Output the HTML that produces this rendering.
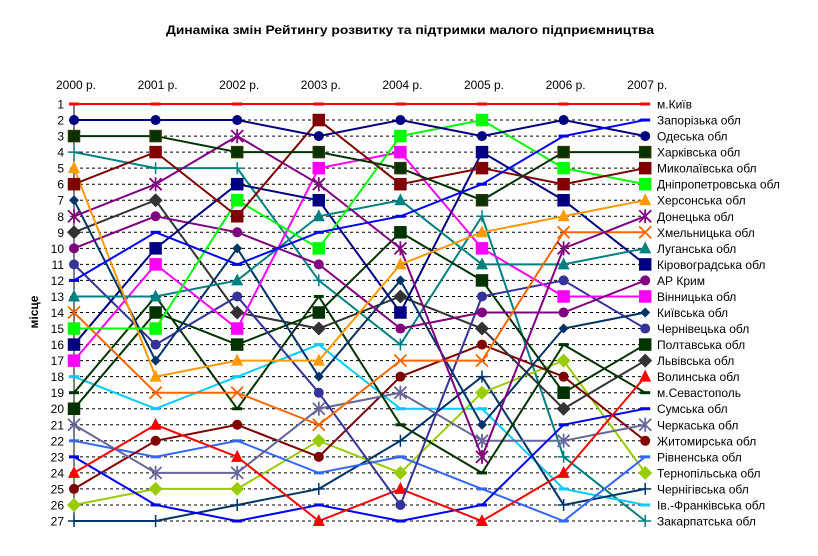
<!DOCTYPE html>
<html><head><meta charset="utf-8"><style>
body{margin:0;background:#fff;}
svg text{font-family:"Liberation Sans",Arial,sans-serif;}
</style></head><body>
<svg id="chart" width="818" height="551" viewBox="0 0 818 551" xmlns="http://www.w3.org/2000/svg">
<text x="410" y="34" text-anchor="middle" font-size="12" font-weight="bold" textLength="488" lengthAdjust="spacingAndGlyphs">Динаміка змін Рейтингу розвитку та підтримки  малого підприємництва</text>
<text transform="translate(38,312) rotate(-90)" text-anchor="middle" font-size="12" font-weight="bold">місце</text>
<g id="grid"></g><g id="axes"></g><g id="series"></g><g id="legend"></g>
</svg>
<script>
const years = ["2000 р.","2001 р.","2002 р.","2003 р.","2004 р.","2005 р.","2006 р.","2007 р."];
const rankTicks = [1,2,3,4,5,6,7,8,9,10,11,12,13,14,15,16,17,18,19,20,21,22,23,24,25,26,27];
const names = ["м.Київ","Запорізька обл","Одеська обл","Харківська обл","Миколаївська обл","Дніпропетровська обл","Херсонська обл","Донецька обл","Хмельницька обл","Луганська обл","Кіровоградська обл","АР Крим","Вінницька обл","Київська обл","Чернівецька обл","Полтавська обл","Львівська обл","Волинська обл","м.Севастополь","Сумська обл","Черкаська обл","Житомирська обл","Рівненська обл","Тернопільська обл","Чернігівська обл","Ів.-Франківська обл","Закарпатська обл"];
const rKyiv = [1,1,1,1,1,1,1,1];
const rZap = [12,9,11,9,8,6,3,2];
const rOde = [2,2,2,3,2,3,2,3];
const rKha = [3,3,4,4,5,7,4,4];
const rMyk = [6,4,8,2,6,5,6,5];
const rDni = [15,15,7,10,3,2,5,6];
const rKhe = [5,18,17,17,11,9,8,7];
const rDon = [8,6,3,6,10,23,10,8];
const rKhm = [14,19,19,21,17,17,9,9];
const rLug = [13,13,12,8,7,11,11,10];
const rKir = [16,10,6,7,14,4,7,11];
const rCrm = [10,8,9,11,15,14,14,12];
const rVin = [17,11,15,5,4,10,13,13];
const rKyo = [7,17,10,18,12,21,15,14];
const rChv = [11,16,13,19,26,13,12,15];
const rPol = [20,14,16,14,9,12,19,16];
const rLvi = [9,7,14,15,13,15,20,17];
const rVol = [24,21,23,27,25,27,24,18];
const rSev = [19,13,20,13,21,24,16,19];
const rSum = [23,26,27,26,27,26,21,20];
const rChk = [21,24,24,20,19,22,22,21];
const rZhy = [25,22,21,23,18,16,18,22];
const rRiv = [22,23,22,24,23,25,27,23];
const rTer = [26,25,25,22,24,19,17,24];
const rChg = [27,27,26,25,22,18,26,25];
const rIvf = [18,20,18,16,20,20,25,26];
const rZak = [4,5,5,12,16,8,23,27];
const ranks = [rKyiv,rZap,rOde,rKha,rMyk,rDni,rKhe,rDon,rKhm,rLug,rKir,rCrm,rVin,rKyo,rChv,rPol,rLvi,rVol,rSev,rSum,rChk,rZhy,rRiv,rTer,rChg,rIvf,rZak];
const colors = ["#FF0000","#0000FF","#000080","#003300","#800000","#00FF00","#FF9900","#800080","#FF6600","#008080","#000080","#800080","#FF00FF","#003366","#333399","#003300","#333333","#FF0000","#003300","#0000FF","#666699","#800000","#3366FF","#99CC00","#003366","#00CCFF","#008080"];
const markers = ["dash","dash","circle","square","square","square","triangle","star","x","triangle","square","circle","square","diamondS","circle","square","diamond","triangle","dash","dash","star","circle","dash","diamond","plus","dash","plus"];

const NS="http://www.w3.org/2000/svg";
function xAt(i){return 74+i*81.6;}
function yAt(r){return 104+(r-1)*(417/26);}
function mk(tag,attrs,parent){const e=document.createElementNS(NS,tag);for(const k in attrs)e.setAttribute(k,attrs[k]);parent.appendChild(e);return e;}
const grid=document.getElementById('grid'),axes=document.getElementById('axes'),ser=document.getElementById('series'),leg=document.getElementById('legend');
rankTicks.forEach(r=>{
  const gl=mk('line',{x1:74,x2:xAt(7),y1:yAt(r),y2:yAt(r),stroke:'#000','stroke-width':1,'stroke-dasharray':'3,3'},grid);
  
  
  const t=mk('text',{x:64,y:yAt(r)+4.5,'text-anchor':'end','font-size':12},axes);
  t.textContent=r;
  
  
  mk('line',{x1:70,x2:74,y1:yAt(r),y2:yAt(r),stroke:'#000'},axes);
});
const ax=mk('line',{x1:74,x2:74,y1:yAt(1),y2:yAt(27),stroke:'#000','stroke-width':1},axes);


years.forEach((y,i)=>{
  const t=mk('text',{x:xAt(i)+2,y:89,'text-anchor':'middle','font-size':12},axes);
  t.textContent=y;
  
  
});
function marker(type,x,y,c,g){
  if(type==='circle')mk('circle',{cx:x,cy:y,r:5,fill:c},g);
  else if(type==='square')mk('rect',{x:x-5.5,y:y-5.5,width:11,height:11,fill:c,stroke:c==='#003300'&&g.dataset.idx==='3'?'#333300':c,'stroke-width':1.5},g);
  else if(type==='triangle')mk('polygon',{points:`${x},${y-7} ${x+6},${y+5} ${x-6},${y+5}`,fill:c},g);
  else if(type==='diamond')mk('polygon',{points:`${x},${y-7} ${x+7},${y} ${x},${y+7} ${x-7},${y}`,fill:c},g);
  else if(type==='diamondS')mk('polygon',{points:`${x},${y-5} ${x+5},${y} ${x},${y+5} ${x-5},${y}`,fill:c},g);
  else if(type==='dash')mk('line',{x1:x-5,x2:x+5,y1:y,y2:y,stroke:c,'stroke-width':3},g);
  else if(type==='plus'){mk('line',{x1:x-6,x2:x+6,y1:y,y2:y,stroke:c,'stroke-width':1.5},g);mk('line',{x1:x,x2:x,y1:y-6,y2:y+6,stroke:c,'stroke-width':1.5},g);}
  else if(type==='x'){mk('path',{d:`M${x-6},${y-6}L${x+6},${y+6}M${x+6},${y-6}L${x-6},${y+6}`,stroke:c,'stroke-width':1.8},g);}
  else if(type==='star'){mk('path',{d:`M${x-6},${y-6}L${x+6},${y+6}M${x+6},${y-6}L${x-6},${y+6}M${x},${y-7}L${x},${y+7}`,stroke:c,'stroke-width':1.8},g);}
}
for(let s=ranks.length-1;s>=0;s--){
  const g=mk('g',{},ser);
  g.dataset.idx=String(s);
  
  
  const pts=ranks[s].map((r,i)=>xAt(i)+','+yAt(r)).join(' ');
  mk('polyline',{points:pts,fill:'none',stroke:colors[s],'stroke-width':2},g);
  ranks[s].forEach((r,i)=>marker(markers[s],xAt(i),yAt(r),colors[s],g));
}
names.forEach((n,s)=>{
  const t=mk('text',{x:657,y:yAt(s+1)+4.5,'font-size':12},leg);
  t.textContent=n;
  
  
});
</script>
</body></html>
